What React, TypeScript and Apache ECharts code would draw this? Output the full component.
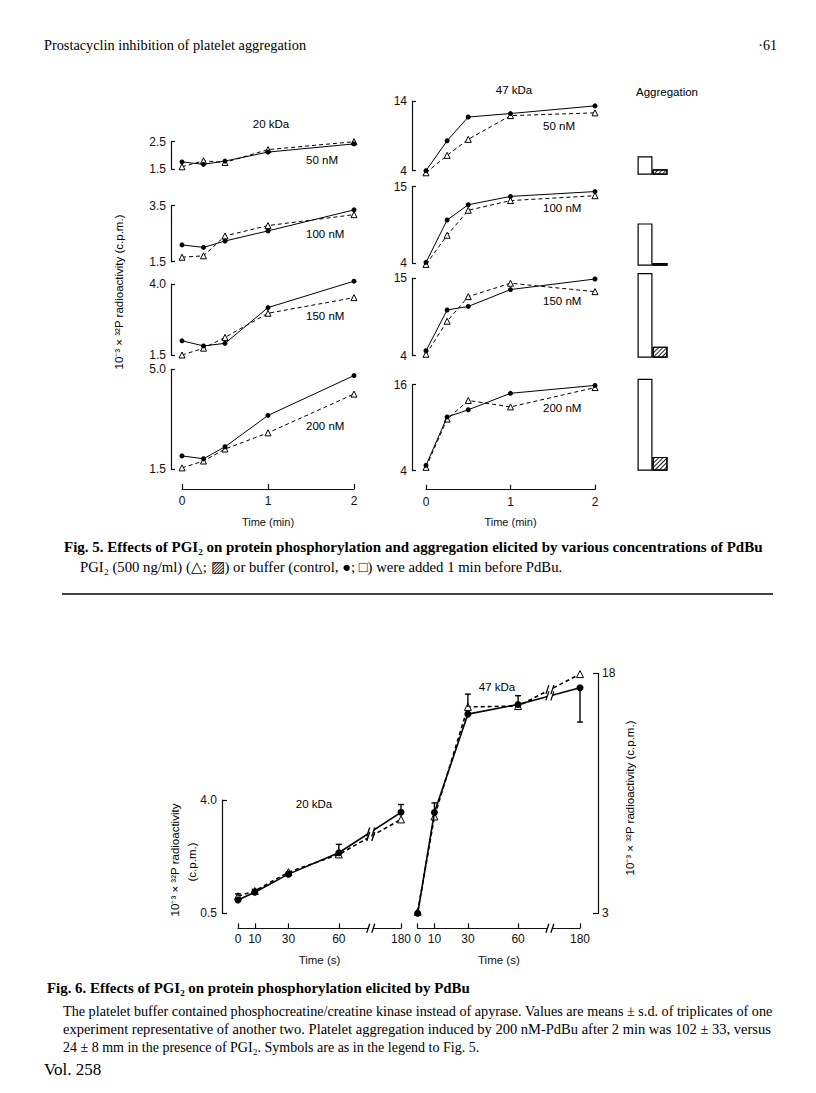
import React, { useEffect, useRef } from "react";
import * as echarts from "echarts";

// ---------------- DATA ----------------
// Fig. 5 : time (min) and concentrations
const TIME_MIN = [0, 0.25, 0.5, 1, 2];
const TIME_MIN_TICKS = [0, 1, 2];
const CONC_LABELS = ["50 nM", "100 nM", "150 nM", "200 nM"];

// y-axis tick labels (min / max) of each panel
const KDA20_YMIN = [1.5, 1.5, 1.5, 1.5];
const KDA20_YMAX = [2.5, 3.5, 4.0, 5.0];
const KDA47_YMIN = [4, 4, 4, 4];
const KDA47_YMAX = [14, 15, 15, 16];

// 20 kDa, control (filled circles) and PGI2 (open triangles)
const K20_CTL_50 = [1.76, 1.67, 1.79, 2.12, 2.42];
const K20_PGI_50 = [1.58, 1.8, 1.74, 2.21, 2.5];
const K20_CTL_100 = [2.1, 2.01, 2.24, 2.6, 3.35];
const K20_PGI_100 = [1.66, 1.71, 2.42, 2.79, 3.18];
const K20_CTL_150 = [2.0, 1.82, 1.91, 3.17, 4.1];
const K20_PGI_150 = [1.5, 1.74, 2.12, 2.97, 3.52];
const K20_CTL_200 = [1.96, 1.86, 2.28, 3.38, 4.78];
const K20_PGI_200 = [1.54, 1.78, 2.2, 2.77, 4.13];

// 47 kDa
const K47_CTL_50 = [4.0, 8.3, 11.7, 12.2, 13.3];
const K47_PGI_50 = [3.7, 6.2, 8.5, 11.9, 12.3];
const K47_CTL_100 = [4.1, 10.2, 12.4, 13.6, 14.3];
const K47_PGI_100 = [3.8, 8.0, 11.6, 13.0, 13.7];
const K47_CTL_150 = [4.7, 10.5, 11.0, 13.4, 14.9];
const K47_PGI_150 = [4.2, 8.9, 12.4, 14.3, 13.1];
const K47_CTL_200 = [4.75, 11.5, 12.5, 14.8, 15.9];
const K47_PGI_200 = [4.47, 11.2, 13.8, 12.9, 15.6];

// Aggregation (arbitrary units, mm)
const AGG_CATEGORIES = ["control", "PGI2"];
const AGG_CONTROL = [20, 46, 92, 100];
const AGG_PGI2 = [6, 3, 12, 15];

// Fig. 6 : time (s)
const TIME_S = [0, 10, 30, 60, 180];
const F6_20_YTICKS = [0.5, 4.0];
const F6_47_YTICKS = [3, 18];
const F6_20_CTL = [0.91, 1.15, 1.71, 2.37, 3.62];
const F6_20_PGI = [1.03, 1.19, 1.77, 2.32, 3.4];
const F6_47_CTL = [3.0, 9.3, 15.45, 16.05, 17.1];
const F6_47_PGI = [3.1, 9.05, 15.9, 15.95, 17.95];
// error bars: [time, from, to]
const F6_20_ERR = [
  [0, 1.03, 1.1],
  [10, 1.19, 1.24],
  [60, 2.37, 2.63],
  [180, 3.62, 3.86],
];
const F6_47_ERR = [
  [10, 9.3, 9.9],
  [30, 15.9, 16.7],
  [60, 16.05, 16.6],
  [180, 17.1, 14.95],
];

// broken time axis: 0-60 s linear, 180 s placed after the break
const POS_180 = 97;
const BREAK_POS = 79;
const axisPos = (t: number) => (t <= 60 ? t : 60 + ((t - 60) * (POS_180 - 60)) / 120);
const posToTime = (p: number) => (p <= 60 ? p : Math.round(60 + ((p - 60) * 120) / (POS_180 - 60)));

// ---------------- LAYOUT ----------------
const SANS = "'Liberation Sans', Arial, Helvetica, sans-serif";
const SERIF = "'Liberation Serif', 'Times New Roman', serif";
const INK = "#111";

const L_TOP = [141.7, 205.7, 284, 369.3];
const L_H = [27.3, 56, 71, 99.7];
const R_TOP = [101, 186.7, 278.3, 384.7];
const R_H = [69.7, 76.3, 77.4, 86];
const AGG_BOTTOM = [174.7, 265.7, 357.7, 470.7];
const AGG_H = 92;

export default function App() {
  const ref = useRef<HTMLDivElement>(null);

  useEffect(() => {
    const chart = echarts.init(ref.current!, null, { renderer: "svg", width: 816, height: 1093 });

    const grid: any[] = [];
    const xAxis: any[] = [];
    const yAxis: any[] = [];
    const series: any[] = [];

    const labelStyle = { color: INK, fontFamily: SANS, fontSize: 12 };
    const axisLineStyle = { show: true, onZero: false, lineStyle: { color: INK, width: 1.2 } };

    const addGrid = (g: any, x: any, y: any) => {
      grid.push(g);
      const i = grid.length - 1;
      xAxis.push({ gridIndex: i, splitLine: { show: false }, ...x });
      yAxis.push({ gridIndex: i, splitLine: { show: false }, ...y });
      return i;
    };

    const ctlSeries = (gi: number, data: any[], w = 1, size = 5) => ({
      type: "line",
      xAxisIndex: gi,
      yAxisIndex: gi,
      data,
      symbol: "circle",
      symbolSize: size,
      itemStyle: { color: "#000" },
      lineStyle: { color: "#000", width: w },
      clip: false,
      z: 4,
    });
    const pgiSeries = (gi: number, data: any[], w = 1, size = 6) => ({
      type: "line",
      xAxisIndex: gi,
      yAxisIndex: gi,
      data,
      symbol: "triangle",
      symbolSize: size,
      itemStyle: { color: "#fff", borderColor: "#000", borderWidth: 1 },
      lineStyle: { color: "#000", width: w, type: [4, 3] },
      clip: false,
      z: 3,
    });

    // ---- Fig 5 panels ----
    const k20 = [
      [K20_CTL_50, K20_PGI_50],
      [K20_CTL_100, K20_PGI_100],
      [K20_CTL_150, K20_PGI_150],
      [K20_CTL_200, K20_PGI_200],
    ];
    const k47 = [
      [K47_CTL_50, K47_PGI_50],
      [K47_CTL_100, K47_PGI_100],
      [K47_CTL_150, K47_PGI_150],
      [K47_CTL_200, K47_PGI_200],
    ];

    const fig5Panel = (
      left: number,
      width: number,
      top: number,
      height: number,
      ymin: number,
      ymax: number,
      yOffset: number,
      xOffset: number,
      showX: boolean,
      fmt: (v: number) => string,
      ctl: number[],
      pgi: number[]
    ) => {
      const gi = addGrid(
        { left, top, width, height },
        {
          type: "value",
          min: 0,
          max: 2,
          show: showX,
          offset: xOffset,
          axisLine: axisLineStyle,
          axisTick: { show: true, inside: true, length: 5, customValues: TIME_MIN_TICKS, lineStyle: { color: INK, width: 1.2 } },
          axisLabel: { ...labelStyle, customValues: TIME_MIN_TICKS, margin: 6 },
          name: "Time (min)",
          nameLocation: "middle",
          nameGap: 27,
          nameTextStyle: { color: INK, fontFamily: SANS, fontSize: 11 },
        },
        {
          type: "value",
          min: ymin,
          max: ymax,
          offset: yOffset,
          axisLine: axisLineStyle,
          axisTick: { show: true, inside: true, length: 4, customValues: [ymin, ymax], lineStyle: { color: INK, width: 1.2 } },
          axisLabel: { ...labelStyle, customValues: [ymin, ymax], formatter: fmt, margin: 5 },
        }
      );
      series.push(pgiSeries(gi, TIME_MIN.map((t, k) => [t, pgi[k]])));
      series.push(ctlSeries(gi, TIME_MIN.map((t, k) => [t, ctl[k]])));
    };

    for (let i = 0; i < 4; i++) {
      fig5Panel(182, 172, L_TOP[i], L_H[i], KDA20_YMIN[i], KDA20_YMAX[i], 11, 20, i === 3, (v) => v.toFixed(1), k20[i][0], k20[i][1]);
      fig5Panel(426, 169, R_TOP[i], R_H[i], KDA47_YMIN[i], KDA47_YMAX[i], 14, 19, i === 3, (v) => String(v), k47[i][0], k47[i][1]);
    }

    // ---- aggregation bars ----
    for (let i = 0; i < 4; i++) {
      const gi = addGrid(
        { left: 637.5, top: AGG_BOTTOM[i] - AGG_H, width: 30, height: AGG_H },
        { type: "category", data: AGG_CATEGORIES, show: false },
        { type: "value", min: 0, max: 100, show: false }
      );
      series.push({
        type: "bar",
        xAxisIndex: gi,
        yAxisIndex: gi,
        barWidth: "100%",
        barCategoryGap: 0,
        data: [
          { value: AGG_CONTROL[i], itemStyle: { color: "#fff", borderColor: "#000", borderWidth: 1.2 } },
          {
            value: AGG_PGI2[i],
            itemStyle: {
              color: "#fff",
              borderColor: "#000",
              borderWidth: 1.2,
              decal: {
                symbol: "rect",
                symbolSize: 1,
                color: "#222",
                backgroundColor: "#fff",
                dashArrayX: [1, 0],
                dashArrayY: [1, 2],
                rotation: -Math.PI / 4,
              },
            },
          },
        ],
      });
    }

    // ---- Fig 6 ----
    const f6TickPos = TIME_S.map(axisPos);
    const f6XAxis = (offset: number) => ({
      type: "value",
      min: 0,
      max: POS_180,
      offset,
      axisLine: axisLineStyle,
      axisTick: { show: true, inside: true, length: 5, customValues: f6TickPos, lineStyle: { color: INK, width: 1.2 } },
      axisLabel: { ...labelStyle, customValues: f6TickPos, formatter: (v: number) => String(posToTime(v)), margin: 5 },
      name: "Time (s)",
      nameLocation: "middle",
      nameGap: 26,
      nameTextStyle: { color: INK, fontFamily: SANS, fontSize: 11.5 },
    });

    const g20 = addGrid(
      { left: 238, top: 800, width: 163, height: 113.3 },
      f6XAxis(15),
      {
        type: "value",
        min: F6_20_YTICKS[0],
        max: F6_20_YTICKS[1],
        offset: 16,
        axisLine: axisLineStyle,
        axisTick: { show: true, inside: true, length: 5, customValues: F6_20_YTICKS, lineStyle: { color: INK, width: 1.2 } },
        axisLabel: { ...labelStyle, customValues: F6_20_YTICKS, formatter: (v: number) => v.toFixed(1), margin: 5 },
      }
    );
    const g47 = addGrid(
      { left: 417.7, top: 673.3, width: 162.3, height: 240 },
      f6XAxis(15),
      {
        type: "value",
        position: "right",
        min: F6_47_YTICKS[0],
        max: F6_47_YTICKS[1],
        offset: 18,
        axisLine: axisLineStyle,
        axisTick: { show: true, inside: true, length: 5, customValues: F6_47_YTICKS, lineStyle: { color: INK, width: 1.2 } },
        axisLabel: { ...labelStyle, customValues: F6_47_YTICKS, margin: 4 },
      }
    );

    const errSeries = (gi: number, rows: number[][]) => ({
      type: "custom",
      xAxisIndex: gi,
      yAxisIndex: gi,
      data: rows.map((r) => [axisPos(r[0]), r[1], r[2]]),
      z: 5,
      renderItem: (_p: any, api: any) => {
        const a = api.coord([api.value(0), api.value(1)]);
        const b = api.coord([api.value(0), api.value(2)]);
        const st = { stroke: "#000", lineWidth: 1.4 };
        return {
          type: "group",
          children: [
            { type: "line", shape: { x1: a[0], y1: a[1], x2: b[0], y2: b[1] }, style: st },
            { type: "line", shape: { x1: b[0] - 3, y1: b[1], x2: b[0] + 3, y2: b[1] }, style: st },
          ],
        };
      },
    });

    series.push(pgiSeries(g20, TIME_S.map((t, k) => [axisPos(t), F6_20_PGI[k]]), 1.6, 7));
    series.push(ctlSeries(g20, TIME_S.map((t, k) => [axisPos(t), F6_20_CTL[k]]), 1.6, 7));
    series.push(errSeries(g20, F6_20_ERR));
    series.push(pgiSeries(g47, TIME_S.map((t, k) => [axisPos(t), F6_47_PGI[k]]), 1.6, 7));
    series.push(ctlSeries(g47, TIME_S.map((t, k) => [axisPos(t), F6_47_CTL[k]]), 1.6, 7));
    series.push(errSeries(g47, F6_47_ERR));

    chart.setOption({
      animation: false,
      backgroundColor: "#fff",
      grid,
      xAxis,
      yAxis,
      series,
    });

    // ---------------- graphics ----------------
    const txt = (x: number, y: number, text: string, font: string, align = "left", rot = 0) => ({
      type: "text",
      x,
      y,
      rotation: rot,
      z: 60,
      style: {
        text,
        font,
        fill: "#000",
        align,
        textAlign: align,
        verticalAlign: "middle",
        textVerticalAlign: "middle",
      },
    });

    const g: any[] = [];
    g.push(txt(44, 45, "Prostacyclin inhibition of platelet aggregation", `14.3px ${SERIF}`));
    g.push(txt(777, 45, "·61", `14px ${SERIF}`, "right"));

    // Fig 5 annotations
    g.push(txt(271, 124, "20 kDa", `11.5px ${SANS}`, "center"));
    g.push(txt(514, 90, "47 kDa", `11.5px ${SANS}`, "center"));
    g.push(txt(667, 92, "Aggregation", `11.5px ${SANS}`, "center"));
    const lLabY = [160, 234, 316, 426];
    const rLabY = [126, 208, 301, 408];
    for (let i = 0; i < 4; i++) {
      g.push(txt(306, lLabY[i], CONC_LABELS[i], `11.5px ${SANS}`));
      g.push(txt(543, rLabY[i], CONC_LABELS[i], `11.5px ${SANS}`));
    }
    g.push(txt(119, 292, "10⁻³ × ³²P radioactivity (c.p.m.)", `11.5px ${SANS}`, "center", Math.PI / 2));

    g.push(
      txt(
        64,
        547,
        "Fig. 5. Effects of PGI₂ on protein phosphorylation and aggregation elicited by various concentrations of PdBu",
        `bold 15px ${SERIF}`
      )
    );
    g.push(txt(80, 567, "PGI₂ (500 ng/ml) (△; ▨) or buffer (control, ●; □) were added 1 min before PdBu.", `14.7px ${SERIF}`));
    g.push({ type: "line", z: 60, shape: { x1: 62, y1: 594, x2: 773, y2: 594 }, style: { stroke: "#000", lineWidth: 1.5 } });

    // Fig 6 annotations
    g.push(txt(314, 804, "20 kDa", `11.5px ${SANS}`, "center"));
    g.push(txt(497, 687, "47 kDa", `11.5px ${SANS}`, "center"));
    g.push(txt(175, 860, "10⁻³ × ³²P radioactivity", `11.5px ${SANS}`, "center", Math.PI / 2));
    g.push(txt(192, 862, "(c.p.m.)", `11.5px ${SANS}`, "center", Math.PI / 2));
    g.push(txt(630, 798, "10⁻³ × ³²P radioactivity (c.p.m.)", `11.5px ${SANS}`, "center", Math.PI / 2));

    g.push(txt(47, 988, "Fig. 6. Effects of PGI₂ on protein phosphorylation elicited by PdBu", `bold 14.9px ${SERIF}`));
    g.push(
      txt(
        63,
        1011,
        "The platelet buffer contained phosphocreatine/creatine kinase instead of apyrase. Values are means ± s.d. of triplicates of one",
        `14.2px ${SERIF}`
      )
    );
    g.push(
      txt(
        63,
        1029,
        "experiment representative of another two. Platelet aggregation induced by 200 nM-PdBu after 2 min was 102 ± 33, versus",
        `14.5px ${SERIF}`
      )
    );
    g.push(txt(63, 1047, "24 ± 8 mm in the presence of PGI₂. Symbols are as in the legend to Fig. 5.", `14px ${SERIF}`));
    g.push(txt(44, 1069, "Vol. 258", `17px ${SERIF}`));

    // break marks "//" on fig 6 axes and lines
    const slash = (x: number, y: number) => {
      const h = 4.5;
      return [
        {
          type: "polygon",
          z: 55,
          shape: { points: [[x - 4, y + h], [x + 1, y + h], [x + 4, y - h], [x - 1, y - h]] },
          style: { fill: "#fff" },
        },
        { type: "line", z: 56, shape: { x1: x - 4, y1: y + h, x2: x - 1, y2: y - h }, style: { stroke: "#000", lineWidth: 1.3 } },
        { type: "line", z: 56, shape: { x1: x + 1, y1: y + h, x2: x + 4, y2: y - h }, style: { stroke: "#000", lineWidth: 1.3 } },
      ];
    };
    const frac = (BREAK_POS - 60) / (POS_180 - 60);
    const breaks = (gi: number, ymin: number, rows: number[][]) => {
      const base = chart.convertToPixel({ gridIndex: gi } as any, [BREAK_POS, ymin]) as number[];
      g.push(...slash(base[0], base[1] + 15));
      rows.forEach((r) => {
        const v = r[3] + (r[4] - r[3]) * frac;
        const p = chart.convertToPixel({ gridIndex: gi } as any, [BREAK_POS, v]) as number[];
        g.push(...slash(p[0], p[1]));
      });
    };
    breaks(g20, F6_20_YTICKS[0], [F6_20_CTL, F6_20_PGI]);
    breaks(g47, F6_47_YTICKS[0], [F6_47_CTL, F6_47_PGI]);

    chart.setOption({ graphic: g });

    return () => chart.dispose();
  }, []);

  return (
    <div
      ref={ref}
      style={{ position: "absolute", left: 0, top: 0, width: 816, height: 1093, background: "#fff" }}
    />
  );
}
